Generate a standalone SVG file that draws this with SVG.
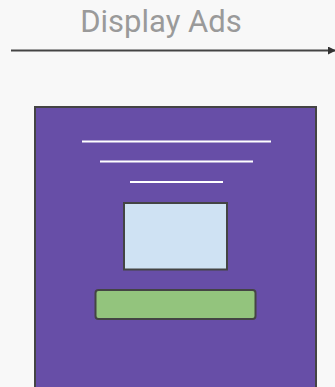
<svg xmlns="http://www.w3.org/2000/svg" width="335" height="387" viewBox="0 0 335 387">
<style>
.t{font-family:Roboto,"Liberation Sans",sans-serif;font-size:31px;fill:#9a9a9a}
.wl{stroke:#ffffff;stroke-width:2;stroke-linecap:butt}
.ol{stroke:#444;stroke-width:2}
</style>
<defs>
<marker id="ah" markerWidth="8" markerHeight="8" refX="7" refY="4" orient="auto" markerUnits="userSpaceOnUse">
<path d="M0,0 L8,4 L0,8 Z" fill="#333"/>
</marker>
</defs>
<rect width="335" height="387" fill="#f8f8f8"/>
<g id="title"><text class="t" x="161" y="32" text-anchor="middle">Display Ads</text></g>
<g id="connectors"><line x1="11" y1="50.5" x2="335" y2="50.5" stroke="#444" stroke-width="2" marker-end="url(#ah)"/></g>
<g id="ad">
<rect x="35" y="107" width="281" height="290" fill="#674ea7" class="ol"/>
<line class="wl" x1="82" y1="141.5" x2="271" y2="141.5"/>
<line class="wl" x1="100" y1="161.5" x2="253" y2="161.5"/>
<line class="wl" x1="130" y1="182" x2="223" y2="182"/>
<rect x="124" y="203" width="103" height="66.5" fill="#cfe2f3" class="ol"/>
<rect x="95.5" y="290" width="160" height="29" rx="3" fill="#93c47d" class="ol"/>
</g>
</svg>
